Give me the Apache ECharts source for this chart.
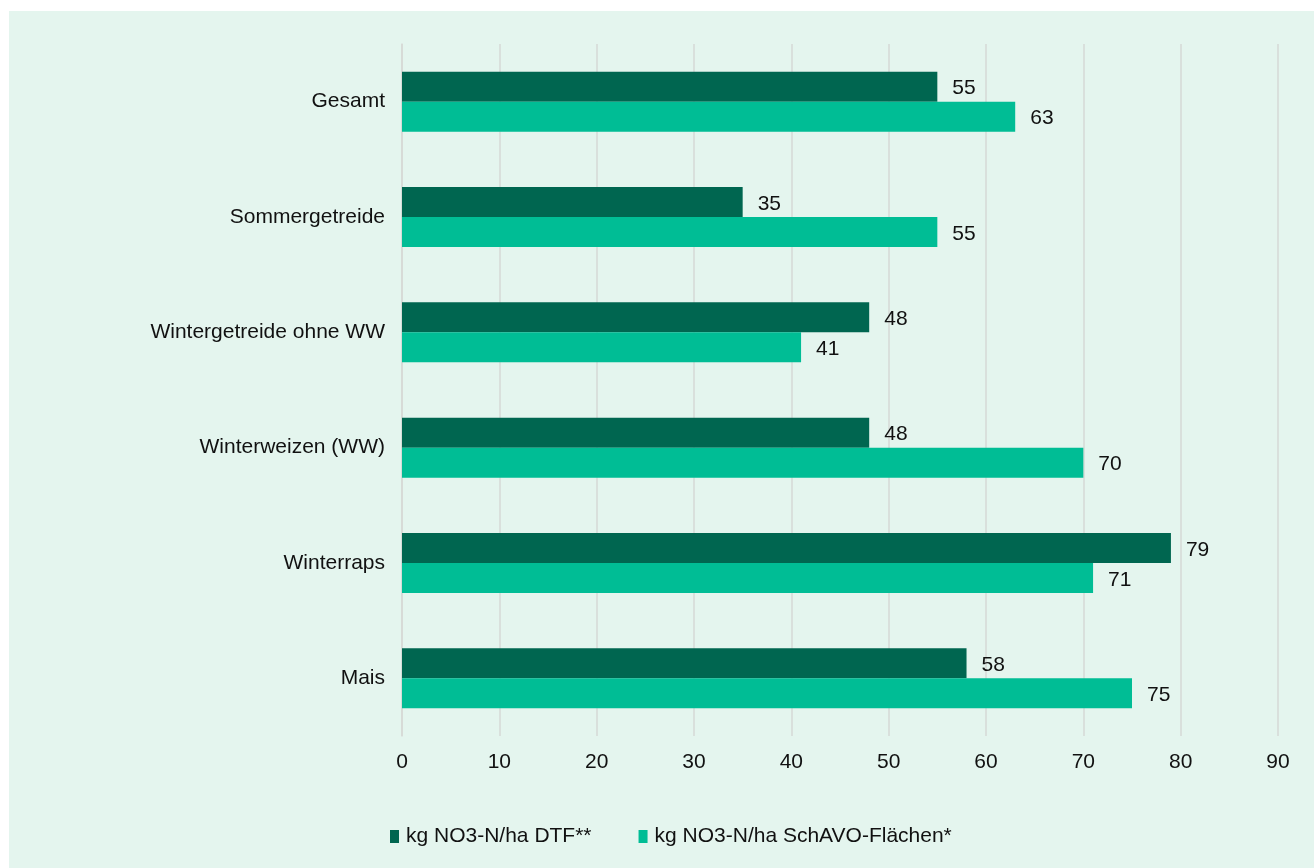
<!DOCTYPE html>
<html>
<head>
<meta charset="utf-8">
<script src="https://cdn.jsdelivr.net/npm/echarts@6/dist/echarts.min.js"></script>
<style>
html,body{margin:0;padding:0;background:#ffffff;width:1314px;height:868px;overflow:hidden;}
#chart{position:absolute;left:9px;top:11px;width:1305px;height:857px;background:#e4f5ee;}
</style>
</head>
<body>
<div id="chart"></div>
<script>
var categories = ['Gesamt', 'Sommergetreide', 'Wintergetreide ohne WW', 'Winterweizen (WW)', 'Winterraps', 'Mais'];
var seriesNames = ['kg NO3-N/ha DTF**', 'kg NO3-N/ha SchAVO-Flächen*'];
var dtfValues = [55, 35, 48, 48, 79, 58];
var schavoValues = [63, 55, 41, 70, 71, 75];
var xTicks = [0, 10, 20, 30, 40, 50, 60, 70, 80, 90];

var chart = echarts.init(document.getElementById('chart'));
var font = '"Liberation Sans", Arial, sans-serif';
var labelStyle = {show: true, position: 'right', distance: 15, offset: [0, 2], color: '#111', fontSize: 21, fontFamily: font};
chart.setOption({
  animation: false,
  textStyle: {fontFamily: font},
  grid: {left: 393, right: 36, top: 33, bottom: 132, containLabel: false},
  legend: {
    bottom: 16, left: 376,
    itemWidth: 9, itemHeight: 13, itemGap: 47, icon: 'rect',
    textStyle: {fontSize: 21, color: '#111', fontFamily: font, padding: [0,0,0,2]},
    data: seriesNames
  },
  xAxis: {
    type: 'value', min: xTicks[0], max: xTicks[xTicks.length - 1], interval: 10,
    axisLine: {show: false}, axisTick: {show: false},
    splitLine: {show: true, lineStyle: {color: '#d6d9d6', width: 1.5}},
    axisLabel: {fontSize: 21, color: '#111', margin: 16, fontFamily: font}
  },
  yAxis: {
    type: 'category', data: categories, inverse: true,
    axisLine: {show: true, lineStyle: {color: '#d6d9d6', width: 1.5}},
    axisTick: {show: false},
    axisLabel: {fontSize: 21, color: '#111', margin: 17, fontFamily: font}
  },
  series: [
    {name: seriesNames[0], type: 'bar', data: dtfValues, itemStyle: {color: '#006650'},
     barGap: '0%', barCategoryGap: '48%', label: labelStyle},
    {name: seriesNames[1], type: 'bar', data: schavoValues, itemStyle: {color: '#00bd95'},
     barGap: '0%', barCategoryGap: '48%', label: labelStyle}
  ]
});
</script>
</body>
</html>
